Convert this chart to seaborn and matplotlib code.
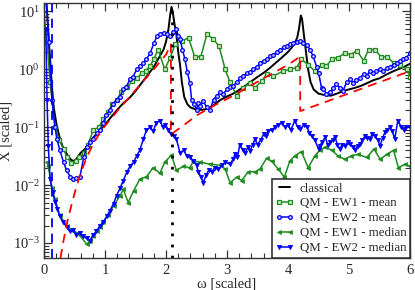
import matplotlib
matplotlib.use("Agg")
import matplotlib.pyplot as plt
import seaborn as sns
import pandas as pd
from matplotlib.ticker import MultipleLocator, LogLocator, LogFormatterMathtext, NullFormatter

# classical
cl_x = [0.02, 0.05, 0.08, 0.1, 0.13, 0.16, 0.2, 0.25, 0.3, 0.35, 0.4, 0.45, 0.5, 0.55, 0.6, 0.7, 0.8,
        0.9, 1.0, 1.1, 1.2, 1.3, 1.4, 1.5, 1.6, 1.7, 1.8, 1.9, 1.96, 2.0, 2.04, 2.07, 2.09, 2.11, 2.14,
        2.17, 2.2, 2.23, 2.26, 2.3, 2.35, 2.4, 2.5, 2.6, 2.7, 2.8, 2.9, 3.0, 3.1, 3.2, 3.3, 3.4, 3.5,
        3.6, 3.7, 3.8, 3.9, 4.0, 4.05, 4.1, 4.15, 4.18, 4.21, 4.23, 4.26, 4.3, 4.33, 4.37, 4.42, 4.5,
        4.6, 4.7, 4.8, 4.9, 5.0, 5.1, 5.2, 5.3, 5.4, 5.5, 5.6, 5.7, 5.8, 5.9, 6.0]
cl_y = [30, 10, 3, 1.5, 0.5, 0.22, 0.12, 0.07, 0.048, 0.038, 0.031, 0.027, 0.026, 0.03, 0.036, 0.045,
        0.065, 0.085, 0.11, 0.15, 0.2, 0.26, 0.32, 0.42, 0.58, 0.8, 1.1, 1.7, 2.2, 3.0, 4.9, 9, 12, 10,
        6, 4, 2.0, 1.2, 0.6, 0.33, 0.25, 0.22, 0.2, 0.2, 0.21, 0.25, 0.3, 0.34, 0.38, 0.44, 0.52, 0.62,
        0.74, 0.87, 1.05, 1.3, 1.6, 2.0, 2.3, 2.7, 3.5, 5, 8.5, 7.5, 4, 1.8, 1.0, 0.6, 0.45, 0.38, 0.36,
        0.35, 0.38, 0.42, 0.45, 0.48, 0.52, 0.58, 0.65, 0.7, 0.8, 0.9, 1.0, 1.1, 1.25]

# reference (red dashed)
ref_x = [0.27, 0.32, 0.38, 0.45, 0.52, 0.6, 0.7, 0.8, 0.9, 1.0, 1.2, 1.4, 1.6, 1.8, 2.0, 2.08, 2.08,
         2.3, 2.5, 2.8, 3.1, 3.4, 3.7, 4.0, 4.2, 4.2, 4.6, 5.0, 5.4, 5.8, 6.0]
ref_y = [5.5e-4, 1.1e-3, 2.3e-3, 4.5e-3, 8.5e-3, 0.016, 0.03, 0.05, 0.075, 0.105, 0.19, 0.33, 0.58,
         1.0, 1.8, 2.7, 0.075, 0.11, 0.16, 0.24, 0.35, 0.53, 0.8, 1.2, 1.66, 0.19, 0.27, 0.385, 0.55,
         0.78, 0.93]

# QM - EW1 - mean
e1m_x = [0.0, 0.05, 0.1, 0.18, 0.25, 0.32, 0.38, 0.45, 0.52, 0.58, 0.65, 0.72, 0.81, 0.9, 0.97, 1.05,
         1.12, 1.19, 1.27, 1.36, 1.45, 1.52, 1.6, 1.67, 1.74, 1.8, 1.87, 1.98, 2.07, 2.15, 2.26, 2.37,
         2.47, 2.57, 2.67, 2.77, 2.87, 2.97, 3.05, 3.16, 3.27, 3.38, 3.46, 3.57, 3.65, 3.76, 3.92, 4.03,
         4.14, 4.22, 4.33, 4.44, 4.55, 4.63, 4.72, 4.82, 4.93, 5.03, 5.13, 5.24, 5.32, 5.43, 5.52, 5.62,
         5.73, 5.84, 5.95, 6.0]
e1m_y = [9, 3, 0.6, 0.1, 0.06, 0.042, 0.03, 0.024, 0.026, 0.03, 0.036, 0.05, 0.09, 0.1, 0.14, 0.18,
         0.25, 0.3, 0.4, 0.5, 0.62, 0.7, 0.85, 0.95, 1.15, 1.5, 2.2, 1.0, 1.6, 2.7, 3.1, 3.5, 1.65, 1.65,
         4.0, 3.4, 2.5, 1.0, 0.6, 0.35, 0.48, 0.59, 0.48, 0.63, 0.82, 0.77, 0.93, 1.0, 1.07, 1.5, 1.2,
         0.93, 1.2, 1.15, 1.5, 1.6, 1.9, 1.8, 2.1, 1.4, 2.2, 2.2, 1.65, 1.65, 1.3, 1.2, 1.0, 0.75]

# QM - EW2 - mean
e2m_x = [0.03, 0.08, 0.13, 0.18, 0.21, 0.26, 0.32, 0.37, 0.43, 0.48, 0.53, 0.59, 0.65, 0.7, 0.76, 0.81,
         0.87, 0.92, 0.97, 1.02, 1.08, 1.13, 1.19, 1.24, 1.3, 1.35, 1.41, 1.46, 1.52, 1.57, 1.63, 1.68,
         1.74, 1.8, 1.85, 1.9, 1.96, 2.01, 2.07, 2.12, 2.17, 2.2, 2.23, 2.27, 2.31, 2.35, 2.39, 2.42, 2.46,
         2.5, 2.53, 2.56, 2.61, 2.67, 2.72, 2.78, 2.83, 2.89, 2.94, 3.0, 3.05, 3.1, 3.16, 3.21, 3.27, 3.32,
         3.38, 3.43, 3.49, 3.54, 3.6, 3.65, 3.71, 3.76, 3.82, 3.87, 3.93, 3.98, 4.03, 4.09, 4.14, 4.2,
         4.25, 4.31, 4.36, 4.41, 4.47, 4.5, 4.55, 4.58, 4.63, 4.69, 4.74, 4.79, 4.85, 4.9, 4.96, 5.01,
         5.07, 5.12, 5.18, 5.24, 5.29, 5.34, 5.4, 5.45, 5.51, 5.56, 5.62, 5.67, 5.73, 5.78, 5.84, 5.89,
         5.94, 6.0]
e2m_y = [20, 3, 0.3, 0.1, 0.063, 0.04, 0.025, 0.018, 0.014, 0.0125, 0.013, 0.014, 0.03, 0.045, 0.055,
         0.063, 0.08, 0.09, 0.12, 0.16, 0.2, 0.25, 0.3, 0.33, 0.45, 0.5, 0.68, 0.75, 1.0, 1.15, 1.3, 1.5,
         1.9, 2.8, 3.7, 4.0, 4.3, 4.0, 3.7, 4.5, 4.9, 3.8, 3.3, 2.2, 1.5, 0.9, 0.59, 0.3, 0.25, 0.2, 0.26,
         0.23, 0.28, 0.22, 0.2, 0.3, 0.35, 0.4, 0.38, 0.45, 0.5, 0.52, 0.6, 0.7, 0.78, 0.85, 0.9, 1.0, 1.1,
         1.3, 1.4, 1.5, 1.7, 1.8, 2.0, 2.2, 2.4, 2.5, 2.7, 2.8, 3.0, 3.1, 2.9, 2.6, 2.2, 1.7, 1.1, 0.88,
         0.48, 0.45, 0.38, 0.4, 0.48, 0.55, 0.48, 0.42, 0.6, 0.67, 0.59, 0.65, 0.72, 0.82, 0.77, 0.93,
         0.85, 0.95, 1.0, 0.95, 1.05, 1.1, 1.2, 1.3, 1.4, 1.5, 1.6, 1.9]

# QM - EW1 - median
e1d_x = [0.05, 0.07, 0.13, 0.18, 0.26, 0.37, 0.45, 0.54, 0.6, 0.7, 0.76, 0.81, 0.87, 0.92, 0.97, 1.05,
         1.14, 1.25, 1.3, 1.38, 1.47, 1.57, 1.68, 1.79, 1.9, 1.98, 2.09, 2.17, 2.28, 2.39, 2.45, 2.56,
         2.72, 2.89, 2.97, 3.05, 3.16, 3.24, 3.35, 3.46, 3.54, 3.65, 3.73, 3.84, 3.94, 4.03, 4.11, 4.22,
         4.33, 4.44, 4.52, 4.61, 4.72, 4.82, 4.93, 5.04, 5.15, 5.29, 5.41, 5.51, 5.62, 5.73, 5.81, 5.92,
         6.0]
e1d_y = [0.025, 0.021, 0.009, 0.0058, 0.003, 0.002, 0.0017, 0.0015, 0.0013, 0.00095, 0.0011, 0.0013,
         0.0016, 0.0019, 0.0023, 0.003, 0.0044, 0.0066, 0.0085, 0.005, 0.008, 0.0126, 0.014, 0.02, 0.016,
         0.025, 0.033, 0.018, 0.021, 0.02, 0.026, 0.025, 0.023, 0.022, 0.019, 0.011, 0.0137, 0.012, 0.017,
         0.017, 0.019, 0.029, 0.026, 0.019, 0.0137, 0.026, 0.032, 0.038, 0.02, 0.032, 0.04, 0.045, 0.04,
         0.032, 0.028, 0.032, 0.034, 0.03, 0.042, 0.028, 0.034, 0.04, 0.02, 0.023, 0.021]

# QM - EW2 - median
e2d_x = [0.03, 0.05, 0.07, 0.1, 0.14, 0.18, 0.22, 0.26, 0.31, 0.37, 0.42, 0.48, 0.53, 0.59, 0.64, 0.7,
         0.75, 0.81, 0.86, 0.92, 0.97, 1.03, 1.08, 1.14, 1.19, 1.25, 1.3, 1.36, 1.41, 1.47, 1.52, 1.57,
         1.63, 1.68, 1.74, 1.79, 1.84, 1.9, 1.95, 1.99, 2.04, 2.09, 2.13, 2.17, 2.23, 2.29, 2.34, 2.4,
         2.45, 2.5, 2.53, 2.57, 2.61, 2.66, 2.7, 2.75, 2.8, 2.86, 2.92, 2.97, 3.05, 3.1, 3.13, 3.17, 3.21,
         3.26, 3.3, 3.34, 3.38, 3.42, 3.46, 3.5, 3.55, 3.6, 3.64, 3.68, 3.73, 3.79, 3.84, 3.9, 3.95, 4.0,
         4.05, 4.11, 4.16, 4.2, 4.26, 4.31, 4.35, 4.39, 4.44, 4.5, 4.52, 4.56, 4.61, 4.65, 4.69, 4.73,
         4.77, 4.81, 4.85, 4.89, 4.93, 4.98, 5.02, 5.06, 5.1, 5.14, 5.18, 5.22, 5.26, 5.3, 5.34, 5.38,
         5.43, 5.47, 5.51, 5.55, 5.59, 5.63, 5.67, 5.71, 5.75, 5.8, 5.86, 5.9, 5.94, 6.0]
e2d_y = [5, 0.3, 0.048, 0.0126, 0.0075, 0.0052, 0.0038, 0.0029, 0.0023, 0.0019, 0.0016, 0.0017, 0.0014,
         0.0015, 0.0013, 0.0012, 0.0011, 0.0014, 0.0016, 0.002, 0.0023, 0.0029, 0.0036, 0.0048, 0.0066,
         0.009, 0.012, 0.017, 0.021, 0.025, 0.032, 0.04, 0.063, 0.09, 0.1, 0.085, 0.12, 0.13, 0.1, 0.11,
         0.09, 0.075, 0.07, 0.063, 0.036, 0.04, 0.032, 0.03, 0.026, 0.022, 0.017, 0.014, 0.011, 0.015,
         0.018, 0.017, 0.02, 0.019, 0.022, 0.025, 0.023, 0.028, 0.034, 0.03, 0.05, 0.04, 0.036, 0.045,
         0.039, 0.05, 0.063, 0.05, 0.06, 0.075, 0.07, 0.086, 0.09, 0.1, 0.11, 0.12, 0.1, 0.11, 0.09, 0.13,
         0.1, 0.093, 0.11, 0.1, 0.08, 0.07, 0.06, 0.042, 0.048, 0.055, 0.068, 0.05, 0.055, 0.06, 0.068,
         0.05, 0.042, 0.05, 0.048, 0.055, 0.051, 0.045, 0.04, 0.048, 0.051, 0.06, 0.07, 0.065, 0.063,
         0.075, 0.07, 0.06, 0.048, 0.065, 0.082, 0.09, 0.1, 0.085, 0.063, 0.13, 0.1, 0.09, 0.1, 0.1]

omega_c = 2.1   # black dotted marker
omega_b = 0.13  # blue dashed marker

sns.set_style("ticks")
plt.rcParams['font.family'] = ['Liberation Serif', 'DejaVu Serif']
plt.rcParams['mathtext.fontset'] = 'stix'

green = '#1f8c1f'
blue = '#0000ff'

fig = plt.figure(figsize=(4.15, 2.9), dpi=100)
ax = fig.add_axes([44 / 415, 1 - 258 / 290, 366 / 415, 255 / 290])

sns.lineplot(x=cl_x, y=cl_y, ax=ax, color='black', lw=1.4, sort=False, estimator=None, label='classical')
sns.lineplot(x=e1m_x, y=e1m_y, ax=ax, color=green, lw=1.1, marker='s', ms=2.5, mfc='#c8e6c8',
             mec=green, mew=0.9, sort=False, estimator=None, label='QM - EW1 - mean')
sns.lineplot(x=e2m_x, y=e2m_y, ax=ax, color=blue, lw=1.1, marker='o', ms=2.7, mfc='#c8c8ff',
             mec=blue, mew=0.9, sort=False, estimator=None, label='QM - EW2 - mean')
sns.lineplot(x=e1d_x, y=e1d_y, ax=ax, color=green, lw=1.1, marker='<', ms=2.8, mec=green,
             mew=0.6, sort=False, estimator=None, label='QM - EW1 - median')
sns.lineplot(x=e2d_x, y=e2d_y, ax=ax, color=blue, lw=1.1, marker='v', ms=3.0, mec=blue,
             mew=0.6, sort=False, estimator=None, label='QM - EW2 - median')
sns.lineplot(x=ref_x, y=ref_y, ax=ax, color='red', lw=1.3, dashes=False, sort=False, estimator=None,
             linestyle=(0, (5, 3.5)))
ax.axvline(omega_c, color='black', lw=2.0, linestyle=(0, (1, 3)))
ax.axvline(omega_b, color=blue, lw=1.3, linestyle=(0, (5, 3.5)))

ax.set_yscale('log')
ax.set_xlim(0, 6)
ax.set_ylim(5.5e-4, 14)
ax.xaxis.set_major_locator(MultipleLocator(1))
ax.xaxis.set_minor_locator(MultipleLocator(0.2))
ax.yaxis.set_major_locator(LogLocator(base=10, numticks=10))
ax.yaxis.set_major_formatter(LogFormatterMathtext())
ax.yaxis.set_minor_locator(LogLocator(base=10, subs=range(2, 10), numticks=20))
ax.yaxis.set_minor_formatter(NullFormatter())
ax.tick_params(which='both', direction='in', top=True, right=True, labelsize=10.5, color='#333333')
ax.tick_params(which='major', length=6, width=0.9, pad=3)
ax.tick_params(axis='x', which='major', pad=4)
ax.tick_params(which='minor', length=3.5, width=0.8)
for s in ax.spines.values():
    s.set_color('#333333')
    s.set_linewidth(1.0)

ax.set_xlabel('ω [scaled]', fontsize=10.5, labelpad=1)
ax.set_ylabel('X [scaled]', fontsize=10.5)
ax.yaxis.set_label_coords(-0.085, 0.5)

leg = ax.legend(loc='lower right', borderaxespad=0, fontsize=9.3, numpoints=2, handlelength=1.4,
                handletextpad=0.45, labelspacing=0.22, borderpad=0.3, fancybox=False, framealpha=1)
leg.get_frame().set_edgecolor('#333333')
leg.get_frame().set_linewidth(1.2)

fig.savefig('out.png', dpi=100)
